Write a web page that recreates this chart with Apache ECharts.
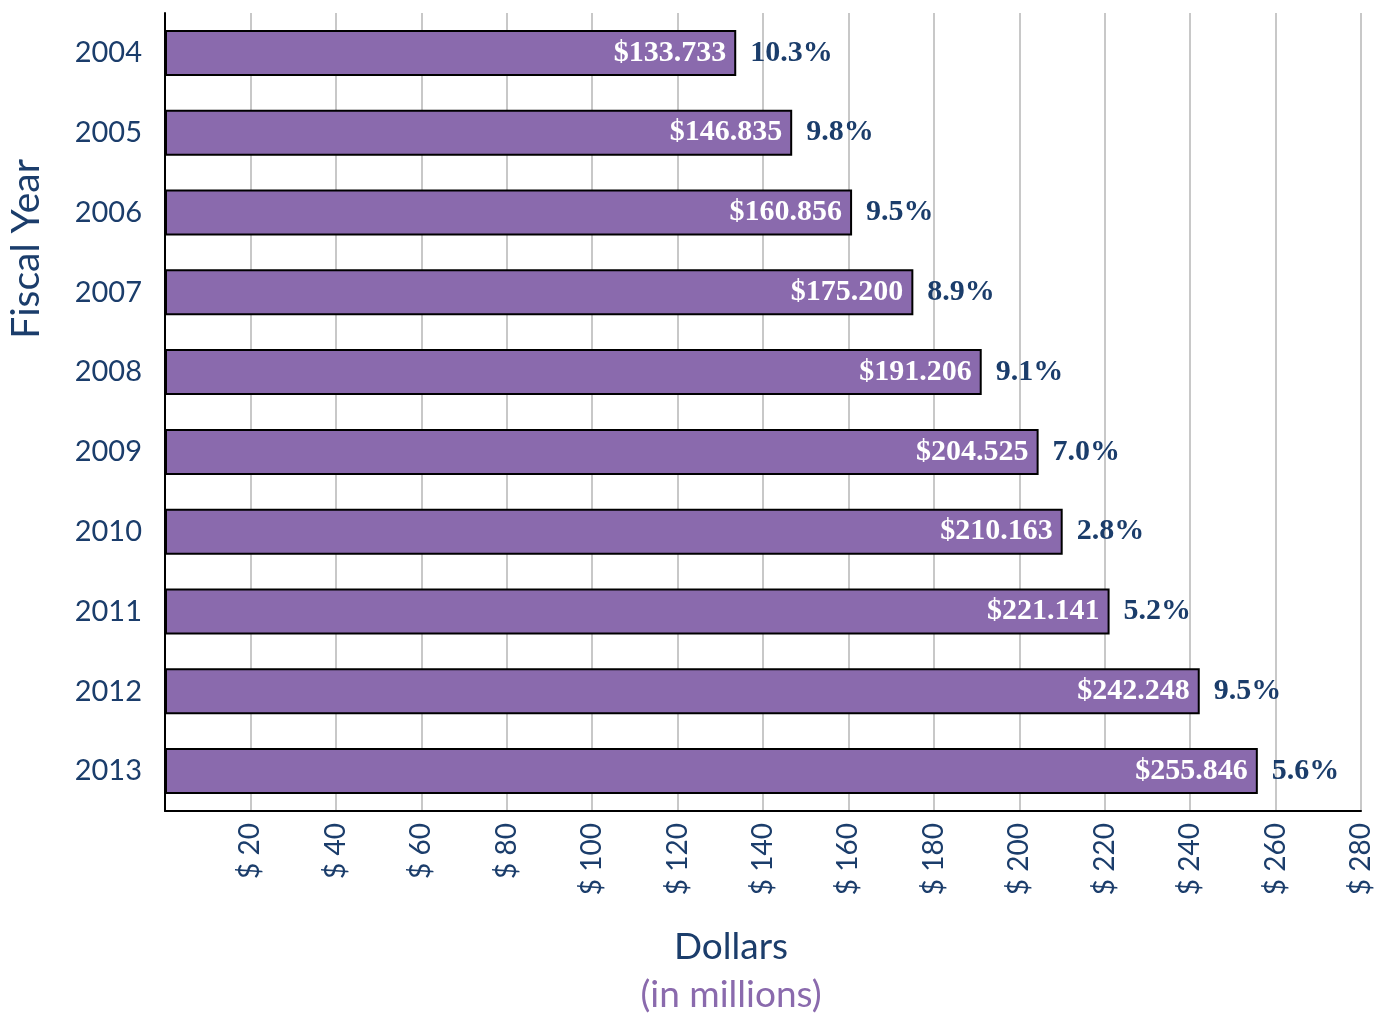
<!DOCTYPE html>
<html>
<head>
<meta charset="utf-8">
<script src="https://cdn.jsdelivr.net/npm/echarts@6/dist/echarts.min.js"></script>
<style>
html,body{margin:0;padding:0;background:#fff;}
#chart{width:1385px;height:1017px;}
</style>
</head>
<body>
<div id="chart"></div>
<script>
const years = ['2004','2005','2006','2007','2008','2009','2010','2011','2012','2013'];
const dollars = [133.733, 146.835, 160.856, 175.200, 191.206, 204.525, 210.163, 221.141, 242.248, 255.846];
const growth = ['10.3%','9.8%','9.5%','8.9%','9.1%','7.0%','2.8%','5.2%','9.5%','5.6%'];

const navy = '#1b3d6b';
const purple = '#8a6aad';
const chart = echarts.init(document.getElementById('chart'));
chart.setOption({
  animation: false,
  grid: {left: 165, right: 24, top: 13, bottom: 206, containLabel: false},
  xAxis: {
    type: 'value', min: 0, max: 280, interval: 20,
    axisLine: {show: true, lineStyle: {color: '#000', width: 2}},
    axisTick: {show: false},
    splitLine: {show: true, lineStyle: {color: '#c8c8c8', width: 2}},
    axisLabel: {
      rotate: 90, margin: 12, color: navy, fontFamily: 'Lato', fontSize: 28,
      showMinLabel: false,
      formatter: v => v === 0 ? '' : '$ ' + v
    }
  },
  yAxis: {
    type: 'category', data: years, inverse: true,
    axisLine: {show: true, lineStyle: {color: '#000', width: 2}},
    axisTick: {show: false},
    axisLabel: {color: navy, fontFamily: 'Lato', fontSize: 29, margin: 23}
  },
  series: [
    {
      type: 'bar', data: dollars, barWidth: 46,
      itemStyle: {color: purple, borderColor: '#000', borderWidth: 2},
      label: {
        show: true, position: 'insideRight', distance: 10,
        color: '#fff', fontFamily: 'Liberation Serif', fontWeight: 'bold', fontSize: 30,
        formatter: p => '$' + p.value.toFixed(3)
      },
      z: 2
    },
    {
      type: 'bar', data: dollars, barWidth: 46, barGap: '-100%',
      itemStyle: {color: 'rgba(0,0,0,0)'},
      label: {
        show: true, position: 'right', distance: 14,
        color: navy, fontFamily: 'Liberation Serif', fontWeight: 'bold', fontSize: 30,
        formatter: p => growth[p.dataIndex]
      },
      z: 3, silent: true
    }
  ],
  graphic: [
    {type: 'text', x: 26, y: 249, rotation: Math.PI / 2,
     style: {text: 'Fiscal Year', textAlign: 'center', textVerticalAlign: 'middle', fill: navy, font: '39px Lato'}},
    {type: 'text', x: 731, y: 947,
     style: {text: 'Dollars', textAlign: 'center', textVerticalAlign: 'middle', fill: navy, font: '37px Lato'}},
    {type: 'text', x: 731, y: 995,
     style: {text: '(in millions)', textAlign: 'center', textVerticalAlign: 'middle', fill: purple, font: '37px Lato'}}
  ]
});
</script>
</body>
</html>
